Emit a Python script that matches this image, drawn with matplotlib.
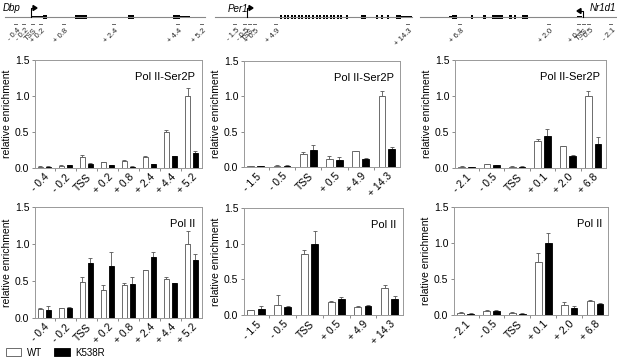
"""ChIP enrichment of Pol II-Ser2P and Pol II along Dbp, Per1 and Nr1d1 (WT vs K538R)."""
import matplotlib

matplotlib.use("Agg")
import matplotlib.pyplot as plt
import numpy as np
from matplotlib.patches import Rectangle, Polygon

plt.rcParams["font.family"] = ["Liberation Sans", "DejaVu Sans"]

W, H = 617, 360

# ---- data -------------------------------------------------------------
dbp_labels = ["- 0.4", "- 0.2", "TSS", "+ 0.2", "+ 0.8", "+ 2.4", "+ 4.4", "+ 5.2"]
per1_labels = ["- 1.5", "- 0.5", "TSS", "+ 0.5", "+ 4.9", "+ 14.3"]
nr1d1_labels = ["- 2.1", "- 0.5", "TSS", "+ 0.1", "+ 2.0", "+ 6.8"]

# Pol II-Ser2P
dbp_s2_wt = [0.02, 0.03, 0.15, 0.08, 0.10, 0.15, 0.50, 1.00]
dbp_s2_wt_err = [0.005, 0.005, 0.03, 0.01, 0.01, 0.01, 0.03, 0.11]
dbp_s2_ko = [0.02, 0.04, 0.06, 0.04, 0.02, 0.05, 0.16, 0.21]
dbp_s2_ko_err = [0.003, 0.005, 0.005, 0.005, 0.003, 0.005, 0.01, 0.02]

per1_s2_wt = [0.01, 0.02, 0.18, 0.11, 0.22, 1.00]
per1_s2_wt_err = [0.003, 0.005, 0.03, 0.04, 0.01, 0.07]
per1_s2_ko = [0.01, 0.02, 0.24, 0.10, 0.11, 0.26]
per1_s2_ko_err = [0.003, 0.005, 0.07, 0.04, 0.02, 0.02]

nr1d1_s2_wt = [0.02, 0.05, 0.02, 0.37, 0.30, 1.00]
nr1d1_s2_wt_err = [0.003, 0.01, 0.003, 0.03, 0.005, 0.07]
nr1d1_s2_ko = [0.01, 0.04, 0.02, 0.45, 0.16, 0.34]
nr1d1_s2_ko_err = [0.003, 0.005, 0.003, 0.09, 0.02, 0.09]

# Pol II
dbp_p2_wt = [0.12, 0.13, 0.49, 0.38, 0.44, 0.65, 0.53, 1.00]
dbp_p2_wt_err = [0.02, 0.005, 0.07, 0.06, 0.03, 0.005, 0.02, 0.18]
dbp_p2_ko = [0.11, 0.13, 0.74, 0.70, 0.46, 0.82, 0.47, 0.79]
dbp_p2_ko_err = [0.05, 0.02, 0.07, 0.19, 0.09, 0.07, 0.005, 0.08]

per1_p2_wt = [0.07, 0.14, 0.86, 0.18, 0.11, 0.38]
per1_p2_wt_err = [0.005, 0.14, 0.05, 0.02, 0.01, 0.04]
per1_p2_ko = [0.09, 0.11, 1.00, 0.23, 0.12, 0.22]
per1_p2_ko_err = [0.04, 0.01, 0.18, 0.02, 0.02, 0.04]

nr1d1_p2_wt = [0.03, 0.06, 0.03, 0.73, 0.14, 0.20]
nr1d1_p2_wt_err = [0.005, 0.01, 0.005, 0.13, 0.04, 0.01]
nr1d1_p2_ko = [0.02, 0.06, 0.02, 1.00, 0.10, 0.15]
nr1d1_p2_ko_err = [0.003, 0.01, 0.003, 0.14, 0.03, 0.01]

fig = plt.figure(figsize=(W / 100, H / 100), dpi=100)


def px_axes(x0, y0, x1, y1):
    # pixel box (top-left origin) -> figure axes
    return fig.add_axes([x0 / W, 1 - y1 / H, (x1 - x0) / W, (y1 - y0) / H])


def bar_panel(box, labels, wt, wt_err, ko, ko_err, title):
    ax = px_axes(*box)
    x = np.arange(len(labels))
    w = 0.26
    ax.bar(x - 0.19, wt, w, color="white", edgecolor="#555555", linewidth=0.6, label="WT", zorder=2)
    ax.bar(x + 0.19, ko, w, color="black", edgecolor="black", linewidth=0.6, label="K538R", zorder=2)
    ax.errorbar(x - 0.19, wt, yerr=[np.zeros(len(wt)), wt_err], fmt="none",
                ecolor="#555555", elinewidth=0.6, capsize=1.5, capthick=0.6, zorder=1)
    ax.errorbar(x + 0.19, ko, yerr=[np.zeros(len(ko)), ko_err], fmt="none",
                ecolor="#555555", elinewidth=0.6, capsize=1.5, capthick=0.6, zorder=1)
    ax.set_ylim(0, 1.5)
    ax.set_xlim(-0.45, len(labels) - 0.5)
    ax.set_yticks([0, 0.5, 1.0, 1.5])
    ax.set_yticklabels(["0.0", "0.5", "1.0", "1.5"], fontsize=7.5)
    ax.set_xticks(x)
    ax.set_xticklabels(labels, rotation=45, ha="right", rotation_mode="anchor", fontsize=7.5)
    ax.set_xticks(np.arange(len(labels) - 1) + 0.5, minor=True)
    ax.tick_params(axis="x", which="major", length=0, pad=3)
    ax.tick_params(axis="x", which="minor", length=2.5, width=0.6, color="#777777")
    ax.tick_params(axis="y", length=2.5, width=0.6, color="#777777", pad=1.5)
    for s in ax.spines.values():
        s.set_color("#999999")
        s.set_linewidth(0.7)
    ax.set_ylabel("relative enrichment", fontsize=7.5, labelpad=2)
    ax.text(0.96, 0.89, title, transform=ax.transAxes, ha="right", va="top", fontsize=8)
    return ax


bar_panel((35, 60, 202, 168), dbp_labels, dbp_s2_wt, dbp_s2_wt_err, dbp_s2_ko, dbp_s2_ko_err, "Pol II-Ser2P")
bar_panel((244, 61, 400, 167), per1_labels, per1_s2_wt, per1_s2_wt_err, per1_s2_ko, per1_s2_ko_err, "Pol II-Ser2P")
bar_panel((455, 60, 606, 168), nr1d1_labels, nr1d1_s2_wt, nr1d1_s2_wt_err, nr1d1_s2_ko, nr1d1_s2_ko_err, "Pol II-Ser2P")
ax_leg = bar_panel((35, 207, 202, 318), dbp_labels, dbp_p2_wt, dbp_p2_wt_err, dbp_p2_ko, dbp_p2_ko_err, "Pol II")
bar_panel((244, 208, 403, 315), per1_labels, per1_p2_wt, per1_p2_wt_err, per1_p2_ko, per1_p2_ko_err, "Pol II")
bar_panel((454, 207, 608, 315), nr1d1_labels, nr1d1_p2_wt, nr1d1_p2_wt_err, nr1d1_p2_ko, nr1d1_p2_ko_err, "Pol II")

handles, leg_labels = ax_leg.get_legend_handles_labels()
fig.legend(handles, leg_labels, loc="lower left", bbox_to_anchor=(0.0, -0.01), ncol=2, frameon=False,
           fontsize=7, handlelength=1.6, handleheight=0.9, columnspacing=1.2, handletextpad=0.6,
           borderaxespad=0.2)

# ---- gene schematics (pixel space) -----------------------------------
gx = fig.add_axes([0, 0, 1, 1])
gx.set_xlim(0, W)
gx.set_ylim(H, 0)
gx.axis("off")

line_y = 17
gene_lines = [(5, 205), (215, 412), (420, 617)]
for x0, x1 in gene_lines:
    gx.plot([x0, x1], [line_y, line_y], color="#888888", lw=0.8)

# exons: (x0, x1, height in px)
dbp_exons = [(31, 44, 1.5), (43, 47, 4), (75, 87, 4), (128, 134, 4), (173, 180, 4), (180, 190, 1.5)]
per1_exons = [(280 + 3.5 * i, 282 + 3.5 * i, 3.5) for i in range(9)] + \
    [(312 + 3.5 * i, 314 + 3.5 * i, 3.5) for i in range(9)] + \
    [(346, 348, 3.5), (361, 366, 3.5), (376, 378, 3.5), (381, 383, 3.5), (387, 389, 3.5),
     (396, 401, 3.5), (401, 412, 1.5)]
nr1d1_exons = [(449, 452, 1.5), (452, 457, 4), (471, 473, 4), (483, 486, 4), (492, 503, 4),
               (509, 512, 4), (514, 516, 4), (522, 528, 4), (577, 582, 1.5)]
for ex in (dbp_exons, per1_exons, nr1d1_exons):
    for x0, x1, h in ex:
        gx.add_patch(Rectangle((x0, line_y - h / 2), x1 - x0, h, color="black", lw=0))

# TSS arrows
gx.plot([31, 31, 34], [line_y, 8, 8], color="black", lw=0.8)
gx.add_patch(Polygon([[33, 5.5], [37, 8], [33, 10.5]], color="black"))
gx.plot([247, 247, 250], [line_y, 8, 8], color="black", lw=0.8)
gx.add_patch(Polygon([[249, 5.5], [253, 8], [249, 10.5]], color="black"))
gx.plot([583, 583, 580], [line_y, 11, 11], color="black", lw=0.8)
gx.add_patch(Polygon([[581, 8.5], [577, 11], [581, 13.5]], color="black"))

gx.text(3, 8, "Dbp", fontsize=7, style="italic", va="center")
gx.text(228, 9, "Per1", fontsize=7, style="italic", va="center")
gx.text(590, 8, "Nr1d1", fontsize=7, style="italic", va="center")

# primer positions along each gene (left to right on the schematic)
dbp_primer_x = [15, 23, 32, 40, 63, 113, 177, 201]
per1_primer_x = [234, 244, 249, 254, 275, 407]
nr1d1_primer_x = [459, 548, 578, 583, 588, 610]
nr1d1_schematic_labels = nr1d1_labels[::-1]  # reverse strand
for xs, labs in ((dbp_primer_x, dbp_labels), (per1_primer_x, per1_labels),
                 (nr1d1_primer_x, nr1d1_schematic_labels)):
    for xp, lab in zip(xs, labs):
        gx.plot([xp - 1.5, xp + 1.5], [24, 24], color="#666666", lw=0.7)
        gx.text(xp + 2, 27, lab, fontsize=5.5, rotation=45, ha="right", va="top",
                rotation_mode="anchor", color="#222222")

fig.savefig("out.png", dpi=100)
